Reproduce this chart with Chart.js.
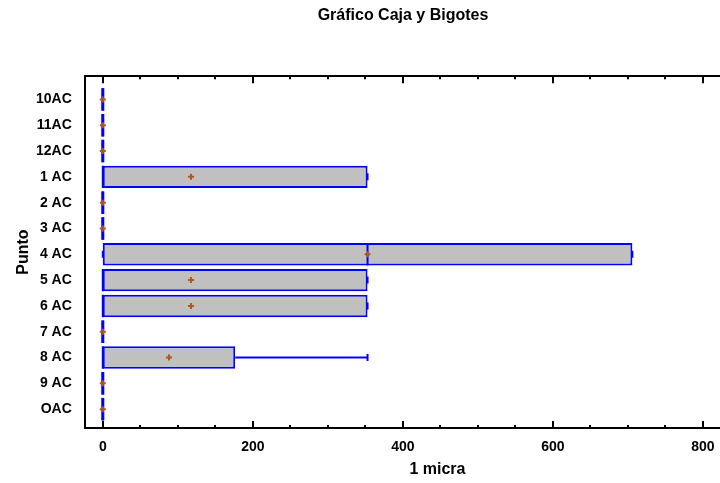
<!DOCTYPE html>
<html lang="es">

<head>
    <meta charset="UTF-8">
    <meta name="viewport" content="width=device-width, initial-scale=1.0">
    <title>Gráfico Caja y Bigotes</title>
    <script src="https://cdn.jsdelivr.net/npm/chart.js"></script>
    <style>
        body { margin: 0; overflow: hidden; background: #fff; }
    </style>
</head>

<body>
    <canvas id="boxChart" width="800" height="483"></canvas>

    <script>
        // Data (values in "1 micra")
        const categories = ['10AC', '11AC', '12AC', '1 AC', '2 AC', '3 AC', '4 AC', '5 AC', '6 AC', '7 AC', '8 AC', '9 AC', 'OAC'];
        const minValues    = [0, 0, 0, 0,     0, 0, 0,     0,     0,     0, 0,     0, 0];
        const q1Values     = [0, 0, 0, 0,     0, 0, 0,     0,     0,     0, 0,     0, 0];
        const medianValues = [0, 0, 0, 0,     0, 0, 352.9, 0,     0,     0, 0,     0, 0];
        const q3Values     = [0, 0, 0, 352.9, 0, 0, 705.9, 352.9, 352.9, 0, 176.5, 0, 0];
        const maxValues    = [0, 0, 0, 352.9, 0, 0, 705.9, 352.9, 352.9, 0, 352.9, 0, 0];
        const meanValues   = [0, 0, 0, 117.6, 0, 0, 352.9, 117.6, 117.6, 0, 88.2,  0, 0];
        const xTickLabels  = [0, 200, 400, 600, 800];

        const boxBlue = '#0000FF';
        const meanBrown = '#B0581C';

        Chart.defaults.font.family = "'Liberation Sans', Arial, sans-serif";
        Chart.defaults.color = '#000';

        // no extra label padding, so the frame and the scales line up
        const noPad = scale => {
            scale.paddingTop = 0;
            scale.paddingBottom = 0;
            scale.paddingLeft = 0;
            scale.paddingRight = 0;
        };

        // whiskers, medians, degenerate boxes and mean markers
        const boxExtras = {
            id: 'boxExtras',
            afterDatasetsDraw(chart) {
                const ctx = chart.ctx;
                const xs = chart.scales.x;
                const ys = chart.scales.y;
                const meta = chart.getDatasetMeta(0);
                ctx.save();
                categories.forEach((c, i) => {
                    const yc = ys.getPixelForValue(i);
                    const h = meta.data[i].height;
                    const px = v => xs.getPixelForValue(v);
                    ctx.strokeStyle = boxBlue;
                    ctx.lineWidth = 2;
                    ctx.beginPath();
                    if (maxValues[i] > q3Values[i]) {
                        ctx.moveTo(px(q3Values[i]), yc);
                        ctx.lineTo(px(maxValues[i]), yc);
                    }
                    if (minValues[i] < q1Values[i]) {
                        ctx.moveTo(px(minValues[i]), yc);
                        ctx.lineTo(px(q1Values[i]), yc);
                    }
                    // end caps
                    if (maxValues[i] > minValues[i]) {
                        ctx.moveTo(px(maxValues[i]), yc - 3.5);
                        ctx.lineTo(px(maxValues[i]), yc + 3.5);
                        ctx.moveTo(px(minValues[i]), yc - 3.5);
                        ctx.lineTo(px(minValues[i]), yc + 3.5);
                    }
                    // median
                    ctx.moveTo(px(medianValues[i]), yc - h / 2);
                    ctx.lineTo(px(medianValues[i]), yc + h / 2);
                    ctx.stroke();
                    if (q3Values[i] === q1Values[i]) {
                        ctx.lineWidth = 3;
                        ctx.beginPath();
                        ctx.moveTo(px(q1Values[i]), yc - h / 2);
                        ctx.lineTo(px(q1Values[i]), yc + h / 2);
                        ctx.stroke();
                    }
                    // mean marker
                    const mx = px(meanValues[i]);
                    ctx.strokeStyle = meanBrown;
                    ctx.lineWidth = 2;
                    ctx.beginPath();
                    ctx.moveTo(mx - 3, yc);
                    ctx.lineTo(mx + 3, yc);
                    ctx.moveTo(mx, yc - 3);
                    ctx.lineTo(mx, yc + 3);
                    ctx.stroke();
                });
                ctx.restore();
            }
        };

        // inward tick marks on top and bottom frame lines
        const inwardTicks = {
            id: 'inwardTicks',
            afterDraw(chart) {
                const ctx = chart.ctx;
                const xs = chart.scales.x;
                const area = chart.chartArea;
                ctx.save();
                ctx.strokeStyle = '#000';
                ctx.lineWidth = 2;
                ctx.beginPath();
                xs.ticks.forEach(t => {
                    const p = Math.round(xs.getPixelForValue(t.value));
                    const len = xTickLabels.includes(t.value) ? 7 : 3;
                    ctx.moveTo(p, area.bottom);
                    ctx.lineTo(p, area.bottom - len);
                    ctx.moveTo(p, area.top);
                    ctx.lineTo(p, area.top + len);
                });
                ctx.stroke();
                ctx.restore();
            }
        };

        const ctx = document.getElementById('boxChart').getContext('2d');
        const boxChart = new Chart(ctx, {
            type: 'bar',
            data: {
                labels: categories,
                datasets: [{
                    data: categories.map((c, i) => ({ y: i, x: [q1Values[i], q3Values[i]] })),
                    backgroundColor: '#C0C0C0',
                    borderColor: boxBlue,
                    borderWidth: 2,
                    borderSkipped: false,
                    barPercentage: 0.87,
                    categoryPercentage: 1
                }]
            },
            options: {
                indexAxis: 'y',
                responsive: false,
                animation: false,
                devicePixelRatio: 1,
                layout: { padding: { left: 16, right: 10, top: 0, bottom: 4 } },
                scales: {
                    x: {
                        type: 'linear',
                        position: 'bottom',
                        min: -24,
                        max: 916,
                        afterFit: noPad,
                        grid: { display: false, drawTicks: false },
                        border: { display: true, color: '#000', width: 2 },
                        ticks: {
                            stepSize: 50,
                            includeBounds: false,
                            autoSkip: false,
                            maxRotation: 0,
                            padding: 11,
                            font: { size: 14, weight: 'bold' },
                            callback: v => xTickLabels.includes(v) ? String(v) : ''
                        },
                        title: {
                            display: true,
                            text: '1 micra',
                            font: { size: 16, weight: 'bold' },
                            padding: { top: -7, bottom: 0 }
                        }
                    },
                    x2: {
                        type: 'linear',
                        axis: 'x',
                        position: 'top',
                        min: -24,
                        max: 916,
                        afterFit: noPad,
                        grid: { display: false, drawTicks: false },
                        border: { display: true, color: '#000', width: 2 },
                        ticks: { display: false }
                    },
                    y: {
                        type: 'linear',
                        reverse: true,
                        offset: false,
                        min: -0.9,
                        max: 12.73,
                        afterFit: noPad,
                        grid: { display: false, drawTicks: false, offset: false },
                        border: { display: true, color: '#000', width: 2 },
                        ticks: {
                            stepSize: 1,
                            includeBounds: false,
                            autoSkip: false,
                            padding: 13,
                            font: { size: 14, weight: 'bold' },
                            callback: v => categories[v] !== undefined ? categories[v] : ''
                        },
                        title: {
                            display: true,
                            text: 'Punto',
                            font: { size: 16, weight: 'bold', lineHeight: 1 },
                            padding: { top: 0, bottom: -9 }
                        }
                    }
                },
                plugins: {
                    legend: { display: false },
                    tooltip: { enabled: false },
                    title: {
                        display: true,
                        text: 'Gráfico Caja y Bigotes',
                        font: { size: 16, weight: 'bold' },
                        color: '#000',
                        padding: { top: 6, bottom: 51 }
                    }
                }
            },
            plugins: [boxExtras, inwardTicks]
        });
    </script>
</body>

</html>
